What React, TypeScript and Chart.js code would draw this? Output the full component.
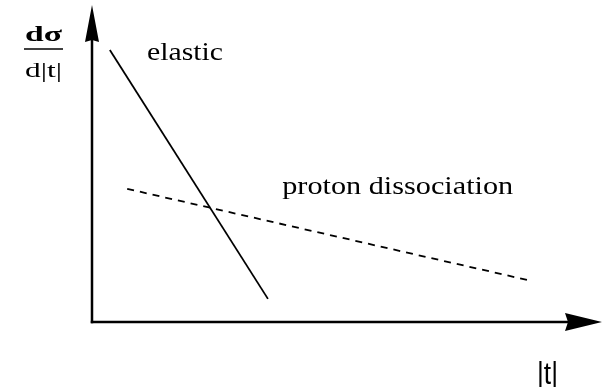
import React, { useEffect, useRef } from "react";
import { Chart, registerables } from "chart.js";

Chart.register(...registerables);

// Schematic axes range (arbitrary units)
const xRange = [0, 10];
const yRange = [0, 10];

// Curves (endpoints, arbitrary units)
const elasticX = [0.35, 3.45];
const elasticY = [8.58, 0.73];
const dissocX = [0.69, 8.55];
const dissocY = [4.2, 1.32];

// Annotation labels
const curveLabels = ["elastic", "proton dissociation"];
const labelX = [1.08, 3.73];
const labelY = [8.26, 4.04];
const yTitleTop = "dσ";
const yTitleBottom = "d|t|";
const xTitle = "|t|";

const W = 603;
const H = 387;
const SERIF = '"Liberation Serif", "Times New Roman", Times, serif';
const SANS = '"Liberation Sans", Arial, Helvetica, sans-serif';

function drawStretched(
  ctx: CanvasRenderingContext2D,
  text: string,
  x: number,
  y: number,
  font: string,
  width: number
) {
  ctx.save();
  ctx.font = font;
  const w = ctx.measureText(text).width;
  const s = width / w;
  ctx.translate(x, y);
  ctx.scale(s, 1);
  ctx.textAlign = "left";
  ctx.textBaseline = "alphabetic";
  ctx.fillStyle = "#000";
  ctx.fillText(text, 0, 0);
  ctx.restore();
}

const overlay = {
  id: "overlay",
  afterDatasetsDraw(chart: any) {
    const ctx: CanvasRenderingContext2D = chart.ctx;
    const xs = chart.scales.x;
    const ys = chart.scales.y;
    const x0 = xs.getPixelForValue(xRange[0]);
    const x1 = xs.getPixelForValue(xRange[1]);
    const y0 = ys.getPixelForValue(yRange[0]);
    const y1 = ys.getPixelForValue(yRange[1]);
    ctx.save();
    ctx.strokeStyle = "#000";
    ctx.fillStyle = "#000";
    ctx.lineWidth = 2.5;
    ctx.lineCap = "butt";
    // x axis
    ctx.beginPath();
    ctx.moveTo(x0 - 1.25, y0);
    ctx.lineTo(x1 - 30, y0);
    ctx.stroke();
    ctx.beginPath();
    ctx.moveTo(x1, y0);
    ctx.lineTo(x1 - 37, y0 - 9);
    ctx.lineTo(x1 - 34, y0);
    ctx.lineTo(x1 - 37, y0 + 9);
    ctx.closePath();
    ctx.fill();
    // y axis
    ctx.beginPath();
    ctx.moveTo(x0, y0 + 1.25);
    ctx.lineTo(x0, y1 + 30);
    ctx.stroke();
    ctx.beginPath();
    ctx.moveTo(x0, y1);
    ctx.lineTo(x0 - 7, y1 + 37);
    ctx.lineTo(x0, y1 + 35);
    ctx.lineTo(x0 + 7, y1 + 37);
    ctx.closePath();
    ctx.fill();
    ctx.restore();

    // curve labels
    const widths = [76, 231];
    curveLabels.forEach((t, i) => {
      drawStretched(
        ctx,
        t,
        xs.getPixelForValue(labelX[i]),
        ys.getPixelForValue(labelY[i]),
        `25px ${SERIF}`,
        widths[i]
      );
    });

    // y title as fraction
    drawStretched(ctx, yTitleTop, 25, 41, `bold 21px ${SERIF}`, 37);
    ctx.save();
    ctx.strokeStyle = "#000";
    ctx.lineWidth = 1.5;
    ctx.beginPath();
    ctx.moveTo(24, 49);
    ctx.lineTo(63, 49);
    ctx.stroke();
    ctx.restore();
    drawStretched(ctx, yTitleBottom, 25, 77, `22px ${SERIF}`, 37);

    // x title
    drawStretched(ctx, xTitle, 537, 384, `31px ${SANS}`, 21);
  },
};

export default function App() {
  const ref = useRef<HTMLCanvasElement>(null);
  useEffect(() => {
    if (!ref.current) return;
    let chart: Chart | null = null;
    let cancelled = false;
    const build = () => {
      if (cancelled || !ref.current) return;
      chart = new Chart(ref.current, {
        type: "line",
        data: {
          datasets: [
            {
              label: curveLabels[0],
              data: elasticX.map((x, i) => ({ x, y: elasticY[i] })),
              borderColor: "#000",
              borderWidth: 1.8,
              pointRadius: 0,
              fill: false,
            },
            {
              label: curveLabels[1],
              data: dissocX.map((x, i) => ({ x, y: dissocY[i] })),
              borderColor: "#000",
              borderWidth: 1.8,
              borderDash: [7, 6],
              pointRadius: 0,
              fill: false,
            },
          ],
        },
        options: {
          animation: false,
          responsive: false,
          devicePixelRatio: 1,
          layout: { padding: { left: 92, right: 1, top: 5, bottom: 65 } },
          plugins: { legend: { display: false }, tooltip: { enabled: false } },
          scales: {
            x: { type: "linear", min: xRange[0], max: xRange[1], display: false },
            y: { type: "linear", min: yRange[0], max: yRange[1], display: false },
          },
        },
        plugins: [overlay],
      });
    };
    const fonts: any = (document as any).fonts;
    if (fonts && fonts.load) {
      Promise.all([
        fonts.load(`25px "Liberation Serif"`),
        fonts.load(`bold 21px "Liberation Serif"`),
        fonts.load(`31px "Liberation Sans"`),
      ]).then(build, build);
    } else {
      build();
    }
    return () => {
      cancelled = true;
      if (chart) chart.destroy();
    };
  }, []);
  return (
    <div style={{ position: "absolute", left: 0, top: 0, width: W, height: H, background: "#fff" }}>
      <canvas ref={ref} width={W} height={H} style={{ width: W, height: H, display: "block" }} />
    </div>
  );
}
